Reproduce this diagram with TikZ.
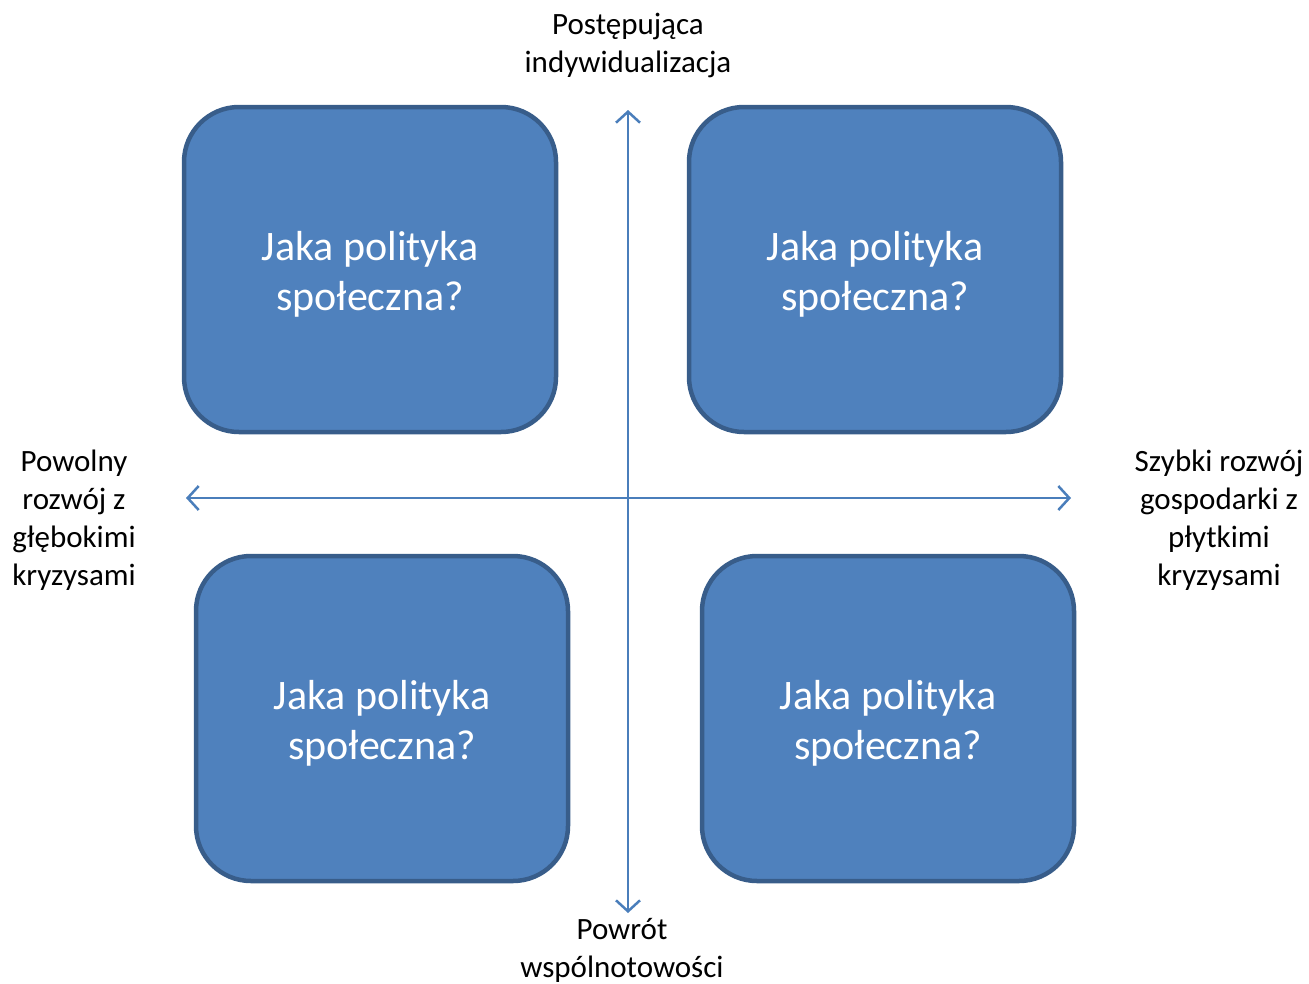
\documentclass[tikz,border=0pt]{standalone}
\usepackage{fontspec}
\setmainfont{Carlito}
\usetikzlibrary{arrows.meta}
\definecolor{boxfill}{HTML}{4F81BD}
\definecolor{boxdraw}{HTML}{385D8A}
\definecolor{axis}{HTML}{4A7EBB}
\tikzset{
  qbox/.style={draw=boxdraw, fill=boxfill, line width=4.5pt, rounded corners=55pt},
  qtext/.style={text=white, align=center, font=\fontsize{42}{50}\selectfont},
  lbl/.style={text=black, align=center, font=\fontsize{31}{38}\selectfont},
  axisline/.style={draw=axis, line width=2.5pt, {Straight Barb[length=11pt,width=24pt,line width=2.5pt]}-{Straight Barb[length=11pt,width=24pt,line width=2.5pt]}}
}
\begin{document}
\begin{tikzpicture}[x=1pt,y=-1pt]
\useasboundingbox (0,0) rectangle (1309,983);
\draw[qbox] (184,107) rectangle (556,432);
\draw[qbox] (689,107) rectangle (1061,432);
\draw[qbox] (196,556) rectangle (568,881);
\draw[qbox] (702,556) rectangle (1074,881);
\node[qtext] (tl) at (370,274) {Jaka polityka\\społeczna?};
\node[qtext] (tr) at (875,274) {Jaka polityka\\społeczna?};
\node[qtext] (bl) at (382,723) {Jaka polityka\\społeczna?};
\node[qtext] (br) at (888,723) {Jaka polityka\\społeczna?};
\coordinate (top) at (628,110);
\coordinate (bot) at (628,913);
\coordinate (lft) at (186,498);
\coordinate (rgt) at (1071,498);
\draw[axisline] (bot) -- (top);
\draw[axisline] (lft) -- (rgt);
\node[lbl] (lt) at (628,45) {Postępująca\\indywidualizacja};
\node[lbl] (lb) at (622,950) {Powrót\\wspólnotowości};
\node[lbl] (ll) at (74,520) {Powolny\\rozwój z\\głębokimi\\kryzysami};
\node[lbl] (lr) at (1219,520) {Szybki rozwój\\gospodarki z\\płytkimi\\kryzysami};
\end{tikzpicture}
\end{document}
